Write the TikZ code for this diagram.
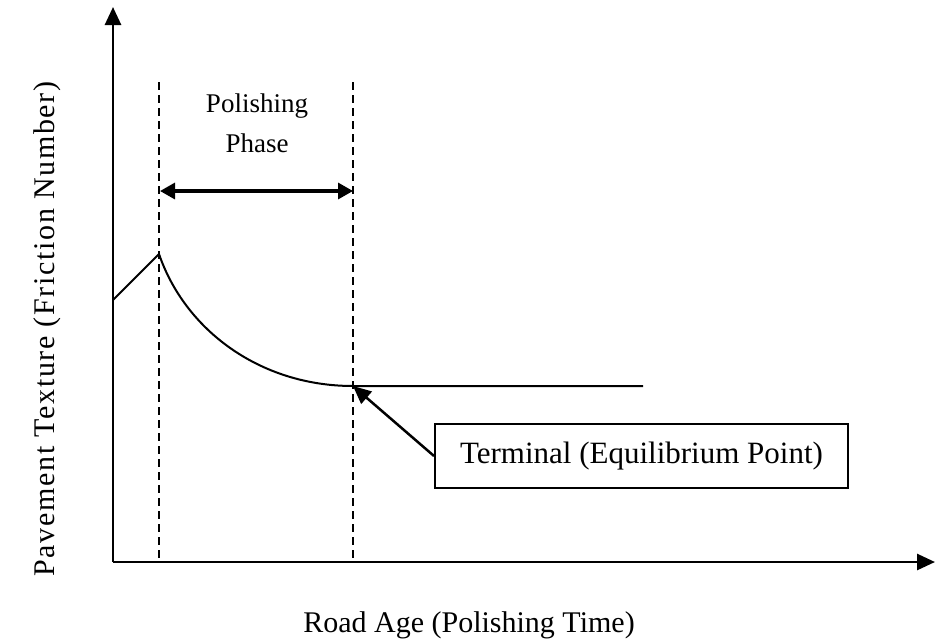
\documentclass[tikz,border=0pt]{standalone}
\usepackage{fontspec}
\setmainfont{Liberation Serif}
\usetikzlibrary{arrows.meta,positioning}

\begin{document}
\begin{tikzpicture}[x=0.5pt,y=-0.5pt,>={Triangle[length=9pt,width=8pt]},
                    line width=1pt]
  \tikzstyle{axis}=[->,line width=1.35pt]
  \tikzstyle{phase line}=[dash pattern=on 4pt off 2.5pt,line width=0.75pt]
  \tikzstyle{label text}=[font=\fontsize{15}{20}\selectfont,inner sep=0pt]
  \useasboundingbox (0,0) rectangle (935,643);

  \coordinate (O)    at (113,562);
  \coordinate (Ytop) at (113,7);
  \coordinate (Xend) at (935,562);
  \coordinate (A)    at (113,300);
  \coordinate (Peak) at (159,254);
  \coordinate (Eq)   at (353,386);
  \coordinate (End)  at (643,386);
  \coordinate (D1t)  at (159,82);
  \coordinate (D1b)  at (159,562);
  \coordinate (D2t)  at (353,82);
  \coordinate (D2b)  at (353,562);
  \coordinate (Pl)   at (160,191);
  \coordinate (Pr)   at (353,191);

  \draw[axis] (O) -- (Ytop);
  \draw[axis] (O) -- (Xend);

  \draw[phase line] (D1t) -- (D1b);
  \draw[phase line] (D2t) -- (D2b);
  \draw[<->,line width=1.6pt,>={Triangle[length=7.5pt,width=8pt]}] (Pl) -- (Pr);

  \node[inner sep=0pt,align=center,font=\fontsize{13.5}{20}\selectfont]
       (phase) at (257,123) {Polishing\\Phase};

  \draw (A) -- (Peak) .. controls (185,330) and (260,386) .. (Eq) -- (End);

  \node[draw,line width=1pt,minimum width=206.5pt,minimum height=32pt,
        font=\fontsize{15.5}{20}\selectfont] (term) at (641.5,456)
       {Terminal (Equilibrium Point)};
  \draw[->,line width=1.25pt] (term.west) -- (Eq);

  \node[label text] (xlabel) at (469,625) {Road Age (Polishing Time)};
  \node[label text,rotate=90] (ylabel) at (47,329)
       {\addfontfeatures{LetterSpace=5.5}Pavement Texture (Friction Number)};
\end{tikzpicture}
\end{document}
